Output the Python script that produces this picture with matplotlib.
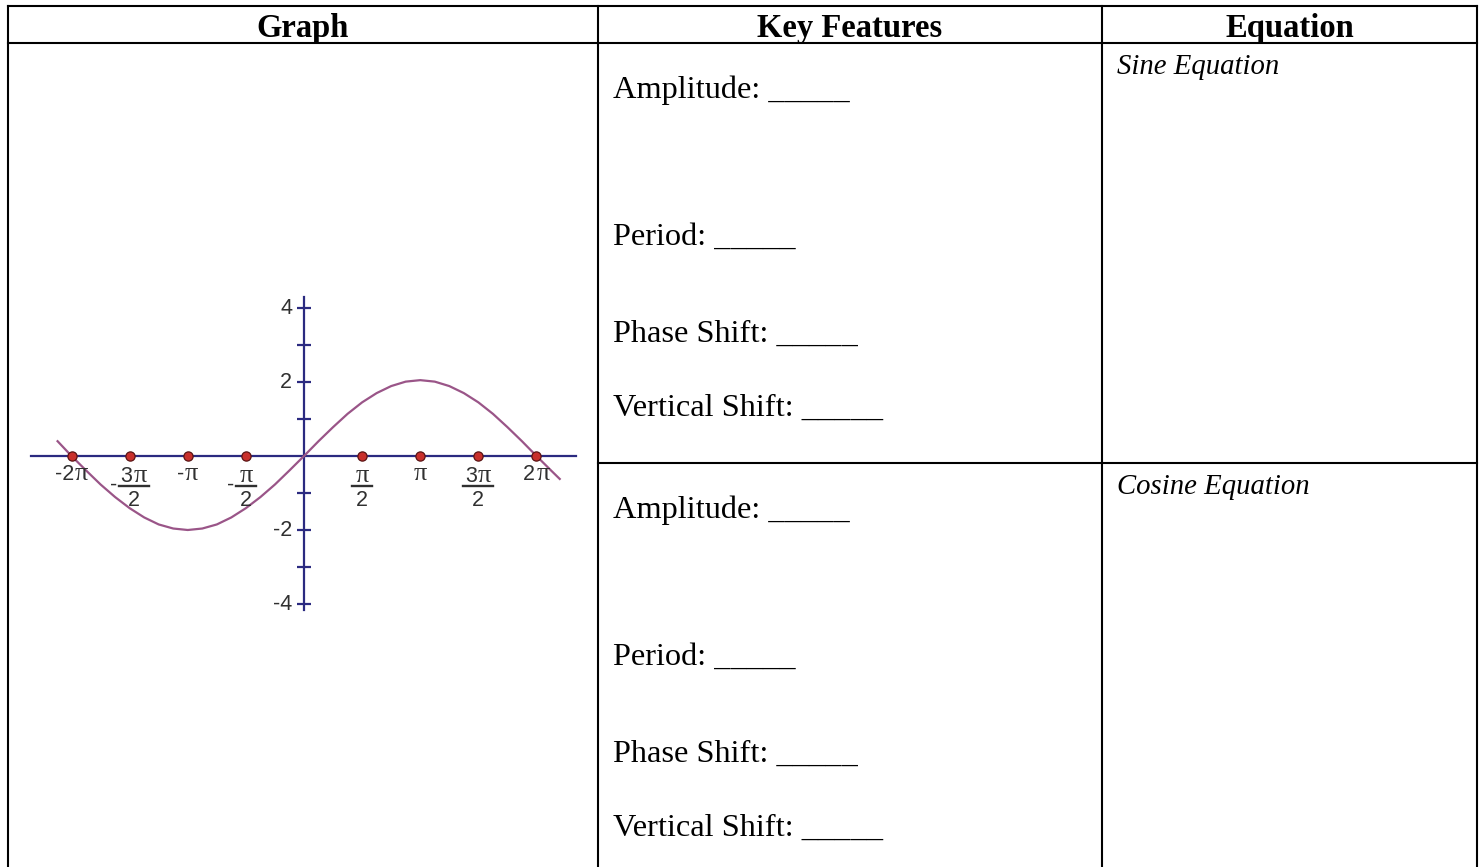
import numpy as np
import matplotlib.pyplot as plt
from matplotlib.transforms import offset_copy

# ---- table text ----
headers = ['Graph', 'Key Features', 'Equation']
features = ['Amplitude: _____', 'Period: _____', 'Phase Shift: _____', 'Vertical Shift: _____']
equations = ['Sine Equation', 'Cosine Equation']

# ---- graph data (x in multiples of pi) ----
curve_x_pi = [-2.12, -2.0, -1.875, -1.75, -1.625, -1.5, -1.375, -1.25, -1.125, -1.0,
              -0.875, -0.75, -0.625, -0.5, -0.375, -0.25, -0.125, 0.0,
              0.125, 0.25, 0.375, 0.5, 0.625, 0.75, 0.875, 1.0,
              1.125, 1.25, 1.375, 1.5, 1.625, 1.75, 1.875, 2.0, 2.125, 2.2]
curve_y = [0.40, 0.0, -0.39, -0.77, -1.11, -1.41, -1.66, -1.85, -1.96, -2.0,
           -1.96, -1.85, -1.66, -1.41, -1.11, -0.77, -0.39, 0.0,
           0.40, 0.78, 1.14, 1.45, 1.70, 1.89, 2.01, 2.05,
           2.01, 1.89, 1.70, 1.45, 1.14, 0.78, 0.40, 0.0, -0.39, -0.62]
x_ticks_pi = [-2.0, -1.5, -1.0, -0.5, 0.5, 1.0, 1.5, 2.0]
x_tick_labels = ['-2π', '-3π/2', '-π', '-π/2', 'π/2', 'π', '3π/2', '2π']
y_ticks = [-4, -3, -2, -1, 1, 2, 3, 4]
y_tick_labels = {4: '4', 2: '2', -2: '-2', -4: '-4'}

W, H = 1483, 867
PX = 37.0          # pixels per graph unit
PT = 0.72          # points per pixel at 100 dpi
axis_col = '#2b2a80'
curve_col = '#9a5588'
lab_col = '#303030'

fig = plt.figure(figsize=(W / 100, H / 100), dpi=100)

# table frame
tbl = fig.add_axes([0, 0, 1, 1])
tbl.set_xlim(0, W)
tbl.set_ylim(H, 0)
tbl.axis('off')
cols = [8, 598, 1102, 1477]
row_top = [43, 463]
lw = 1.5
for x in cols:
    tbl.plot([x, x], [5.5, H], color='black', lw=lw, solid_capstyle='projecting')
tbl.plot([cols[0], cols[-1]], [5.5, 5.5], color='black', lw=lw, solid_capstyle='projecting')
tbl.plot([cols[0], cols[-1]], [43, 43], color='black', lw=lw, solid_capstyle='projecting')
tbl.plot([cols[1], cols[-1]], [463, 463], color='black', lw=lw, solid_capstyle='projecting')

serif = 'Liberation Serif'
for i, h in enumerate(headers):
    tbl.text((cols[i] + cols[i + 1]) / 2, 37, h, ha='center', va='baseline',
             fontsize=23.5, fontweight='bold', family=serif)

feat_offsets = [55, 202, 299, 373]
for top, eq in zip(row_top, equations):
    for off, f in zip(feat_offsets, features):
        tbl.text(613, top + off, f, ha='left', va='baseline', fontsize=23.3, family=serif)
    tbl.text(1117, top + 31, eq, ha='left', va='baseline', fontsize=20.7,
             family=serif, style='italic')

# graph
L, R, T, B = 20, 590, 280, 640
ox, oy = 304, 456
ax = fig.add_axes([L / W, (H - B) / H, (R - L) / W, (B - T) / H])
ax.set_xlim((L - ox) / PX, (R - ox) / PX)
ax.set_ylim((oy - B) / PX, (oy - T) / PX)
ax.axis('off')

ax.plot([-7.37, 7.34], [0, 0], color=axis_col, lw=1.6, zorder=1)
ax.plot([0, 0], [-4.15, 4.3], color=axis_col, lw=1.6, zorder=1)
ax.plot(np.zeros(len(y_ticks)), y_ticks, ls='none', marker='_', ms=10, mew=1.6,
        color=axis_col, zorder=1)

ax.plot(np.array(curve_x_pi) * np.pi, curve_y, color=curve_col, lw=1.6, zorder=2)

xt = np.array(x_ticks_pi) * np.pi
ax.scatter(xt, np.zeros(len(xt)), s=44, color='#c8302c', edgecolors='#5a1414',
           linewidths=0.9, zorder=3)

FS = 15.5
FS_PI = 19
sans_kw = dict(textcoords='offset points', va='baseline', fontsize=FS,
               color=lab_col, family='Liberation Sans', annotation_clip=False)
pi_kw = dict(textcoords='offset points', va='baseline', ha='left', fontsize=FS_PI,
             color=lab_col, family='Liberation Serif', annotation_clip=False)
CHAR_W = {'-': 0.333, '2': 0.556, '3': 0.556}


def pi_label(x, prefix, dx, base):
    # prefix in sans, pi in serif, whole label centred on dx (pixels)
    w1 = sum(CHAR_W[c] for c in prefix) * FS / PT
    w2 = 0.55 * FS_PI / PT
    j = dx + (w1 - w2) / 2
    if prefix:
        ax.annotate(prefix, (x, 0), xytext=(j * PT, base * PT), ha='right', **sans_kw)
    ax.annotate('π', (x, 0), xytext=((j + 1) * PT, base * PT), **pi_kw)


for x, lab in zip(xt, x_tick_labels):
    if '/' not in lab:
        pi_label(x, lab[:-1], 0, -24)
        continue
    neg = lab.startswith('-')
    num, den = lab.lstrip('-').split('/')
    dx = 4 if num == '3π' and neg else 0
    bw = 30 if num == '3π' else 20
    pi_label(x, num[:-1], dx, -26)
    ax.annotate(den, (x, 0), xytext=(dx * PT, -50 * PT), ha='center', **sans_kw)
    bar_tr = offset_copy(ax.transData, fig=fig, x=0, y=-30 * PT, units='points')
    ax.plot([x + (dx - bw / 2) / PX, x + (dx + bw / 2) / PX], [0, 0],
            color=lab_col, lw=1.7, transform=bar_tr, clip_on=False)
    if neg:
        ax.annotate('-', (x, 0), xytext=((dx - bw / 2 - 5) * PT, -29 * PT),
                    textcoords='offset points', ha='center', va='center', fontsize=FS,
                    color=lab_col, family='Liberation Sans', annotation_clip=False)

for y, lab in y_tick_labels.items():
    ax.annotate(lab, (0, y), xytext=(-12 * PT, 0), textcoords='offset points',
                ha='right', va='center', fontsize=FS, color=lab_col,
                family='Liberation Sans', annotation_clip=False)

fig.savefig('out.png', dpi=100)
